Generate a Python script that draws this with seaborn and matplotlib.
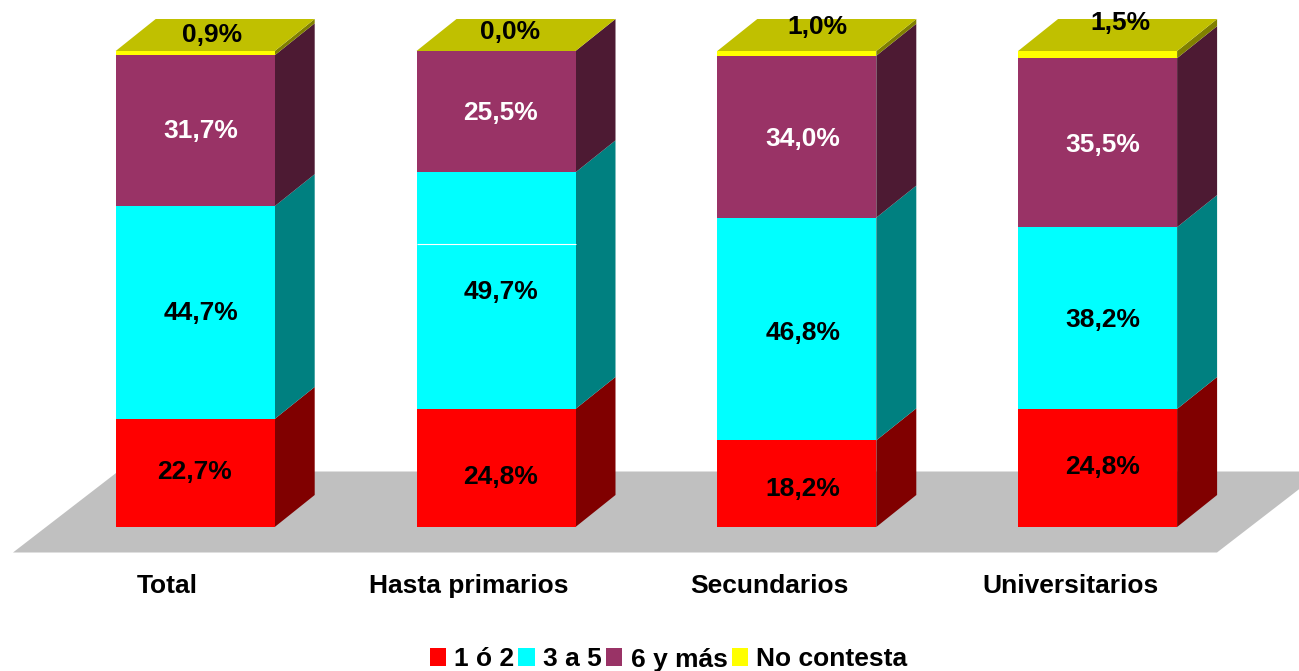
import numpy as np
import pandas as pd
import matplotlib
matplotlib.use('Agg')
import matplotlib.pyplot as plt
from matplotlib.patches import Patch
import seaborn as sns

# datos
niveles = ['Total', 'Hasta primarios', 'Secundarios', 'Universitarios']
uno_dos = [22.7, 24.8, 18.2, 24.8]
tres_cinco = [44.7, 49.7, 46.8, 38.2]
seis_mas = [31.7, 25.5, 34.0, 35.5]
no_contesta = [0.9, 0.0, 1.0, 1.5]
series = ['1 ó 2', '3 a 5', '6 y más', 'No contesta']

colores = ['#FF0000', '#00FFFF', '#993366', '#FFFF00']
laterales = ['#800000', '#008080', '#4D1A33', '#808000']
color_tapa = '#C0C000'
color_suelo = '#C0C0C0'
color_texto = ['black', 'black', 'white', 'black']

# posicion de las etiquetas en pixeles, por serie y por nivel
etiquetas_x = [[194.5, 501, 803, 1103], [201, 501, 803, 1103],
               [201, 501, 803, 1103], [212, 510, 817, 1120]]
etiquetas_y = [[472, 477, 489, 467], [313, 292, 333, 320],
               [131, 113, 139, 145], [35, 32, 27, 23]]

df = pd.DataFrame({'nivel': niveles, series[0]: uno_dos, series[1]: tres_cinco,
                   series[2]: seis_mas, series[3]: no_contesta})

sns.set_theme(style='white')
plt.rcParams['font.family'] = ['Liberation Sans', 'DejaVu Sans']

W, H = 1299, 671
BASE, EJE_ABAJO = 527, 565   # pixeles: y=0 y borde inferior del eje
X0, PX_X = 195.2, 300.8      # centro primera barra, pixeles por categoria
PX_Y = 4.76                  # pixeles por punto porcentual
ANCHO = 159 / PX_X
DX, DY = 40 / PX_X, 32 / PX_Y


def a_x(px):
    return (px - X0) / PX_X


def a_y(py):
    return (BASE - py) / PX_Y


fig = plt.figure(figsize=(W / 100, H / 100), dpi=100)
ax = fig.add_axes([0, (H - EJE_ABAJO) / H, 1, EJE_ABAJO / H])

# suelo
ax.fill([a_x(13), a_x(1217), a_x(1322), a_x(118)],
        [a_y(552.5), a_y(552.5), a_y(471.5), a_y(471.5)],
        color=color_suelo, lw=0, zorder=0)

# barras apiladas
abajo = np.zeros(len(niveles))
for i, s in enumerate(series):
    sns.barplot(data=df, x='nivel', y=s, bottom=abajo, color=colores[i], saturation=1,
                width=ANCHO, linewidth=0, errorbar=None, ax=ax, zorder=3)
    # cara lateral
    for j, v in enumerate(df[s].values):
        xd = j + ANCHO / 2
        ax.fill([xd, xd + DX, xd + DX, xd],
                [abajo[j], abajo[j] + DY, abajo[j] + v + DY, abajo[j] + v],
                color=laterales[i], lw=0, zorder=2)
    abajo = abajo + df[s].values

# tapa superior
for j, t in enumerate(abajo):
    xi, xd = j - ANCHO / 2, j + ANCHO / 2
    ax.fill([xi, xd, xd + DX, xi + DX], [t, t, t + DY, t + DY],
            color=color_tapa, lw=0, zorder=2)

# linea blanca dentro del cian de Hasta primarios
ax.hlines(a_y(243.5), 1 - ANCHO / 2, 1 + ANCHO / 2, color='white', lw=0.8, zorder=4)

# etiquetas de valor
for i, s in enumerate(series):
    for j, v in enumerate(df[s].values):
        ax.text(a_x(etiquetas_x[i][j]), a_y(etiquetas_y[i][j]), f'{v:.1f}%'.replace('.', ','),
                ha='center', va='center', fontsize=19, fontweight='bold',
                color=color_texto[i], zorder=5)

ax.set_xlim(a_x(0), a_x(W))
ax.set_ylim(a_y(EJE_ABAJO), a_y(0))
ax.set_xticks(np.arange(len(niveles)) - 27.5 / PX_X, labels=niveles)
ax.set_yticks([])
ax.set_xlabel('')
ax.set_ylabel('')
ax.tick_params(axis='x', length=0, pad=6.7, labelsize=19)
for lab in ax.get_xticklabels():
    lab.set_fontweight('bold')
    lab.set_color('black')
sns.despine(ax=ax, left=True, bottom=True)
ax.patch.set_alpha(0)

handles = [Patch(color=c, lw=0) for c in colores]
fig.legend(handles, series, loc='center', bbox_to_anchor=(668.5 / W, 1 - 659.5 / H), ncol=4,
           frameon=False, prop={'size': 19, 'weight': 'bold'}, labelcolor='black',
           handlelength=0.62, handleheight=0.65, handletextpad=0.32, columnspacing=0.15,
           borderpad=0, borderaxespad=0)

fig.savefig('out.png', dpi=100)
